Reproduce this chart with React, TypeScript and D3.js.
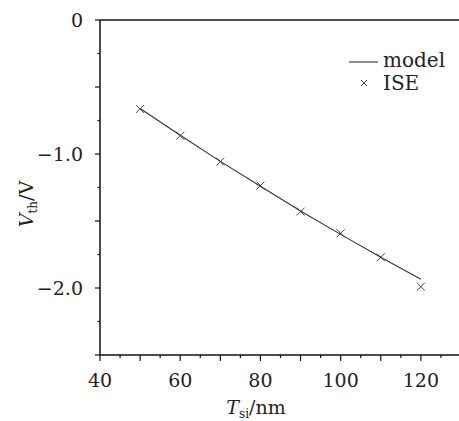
import React, { useEffect, useRef } from "react";
import * as d3 from "d3";

const tsi = [50, 60, 70, 80, 90, 100, 110, 120];
const modelVth = [-0.66, -0.86, -1.055, -1.24, -1.425, -1.6, -1.77, -1.935];
const iseVth = [-0.664, -0.863, -1.057, -1.236, -1.43, -1.592, -1.771, -1.99];
const xTickLabels = [40, 60, 80, 100, 120];
const yTickLabels = [0, -1, -2];

const W = 459;
const H = 421;
const FONT = "DejaVu Serif";

export default function App() {
  const svgRef = useRef<SVGSVGElement>(null);

  useEffect(() => {
    const svg = d3.select(svgRef.current);
    svg.selectAll("*").remove();

    const x = d3.scaleLinear().domain([40, 130]).range([100, 461]);
    const y = d3.scaleLinear().domain([0, -2.5]).range([20, 355]);

    // frame: top, left, bottom
    const axisCol = "#111";
    svg.append("line").attr("x1", 100).attr("x2", W).attr("y1", y(0)).attr("y2", y(0))
      .attr("stroke", axisCol).attr("stroke-width", 1.5);
    svg.append("line").attr("x1", 100).attr("x2", 100).attr("y1", y(0)).attr("y2", y(-2.5))
      .attr("stroke", axisCol).attr("stroke-width", 1.5);
    svg.append("line").attr("x1", 100).attr("x2", W).attr("y1", y(-2.5)).attr("y2", y(-2.5))
      .attr("stroke", axisCol).attr("stroke-width", 1.5);

    // x ticks
    d3.range(40, 131, 5).forEach(v => {
      const major = v % 10 === 0;
      svg.append("line").attr("x1", x(v)).attr("x2", x(v))
        .attr("y1", y(-2.5)).attr("y2", y(-2.5) + (major ? 6 : 3))
        .attr("stroke", axisCol).attr("stroke-width", 1.2);
    });
    svg.selectAll(".xl").data(xTickLabels).enter().append("text")
      .attr("x", d => x(d)).attr("y", 387)
      .attr("text-anchor", "middle").attr("font-family", FONT).attr("font-size", 19)
      .attr("fill", "#222").text(d => String(d));

    // y ticks
    d3.range(0, 11).forEach(i => {
      const v = -i * 0.25;
      const major = i % 2 === 0;
      svg.append("line").attr("x1", 100 - (major ? 5 : 2.5)).attr("x2", 100)
        .attr("y1", y(v)).attr("y2", y(v))
        .attr("stroke", axisCol).attr("stroke-width", 1.2);
    });
    svg.selectAll(".yl").data(yTickLabels).enter().append("text")
      .attr("x", 83).attr("y", d => y(d) + 7)
      .attr("text-anchor", "end").attr("font-family", FONT).attr("font-size", 19)
      .attr("fill", "#222").text(d => (d === 0 ? "0" : "\u2212" + Math.abs(d).toFixed(1)));

    // axis titles
    const xt = svg.append("text").attr("x", 256).attr("y", 414).attr("text-anchor", "middle")
      .attr("font-family", FONT).attr("font-size", 19).attr("fill", "#222");
    xt.append("tspan").attr("font-style", "italic").text("T");
    xt.append("tspan").attr("font-size", 12).attr("dy", 4).text("si");
    xt.append("tspan").attr("dy", -4).text("/nm");

    const yt = svg.append("text").attr("transform", `translate(33,204) rotate(-90)`)
      .attr("text-anchor", "middle").attr("font-family", FONT).attr("font-size", 19).attr("fill", "#222");
    yt.append("tspan").attr("font-style", "italic").text("V");
    yt.append("tspan").attr("font-size", 12).attr("dy", 4).text("th");
    yt.append("tspan").attr("dy", -4).text("/V");

    // model line
    const line = d3.line<number>().x((_, i) => x(tsi[i])).y(d => y(d));
    svg.append("path").datum(modelVth).attr("d", line).attr("fill", "none")
      .attr("stroke", "#333").attr("stroke-width", 1.1);

    // ISE markers
    const s = 4;
    const cross = (cx: number, cy: number) => `M${cx - s},${cy - s}L${cx + s},${cy + s}M${cx - s},${cy + s}L${cx + s},${cy - s}`;
    svg.selectAll(".m").data(iseVth).enter().append("path")
      .attr("d", (d, i) => cross(x(tsi[i]), y(d)))
      .attr("stroke", "#333").attr("stroke-width", 0.9).attr("fill", "none");

    // legend
    svg.append("line").attr("x1", 349).attr("x2", 378).attr("y1", 62).attr("y2", 62)
      .attr("stroke", "#333").attr("stroke-width", 1.1);
    svg.append("text").attr("x", 383).attr("y", 67).attr("font-family", FONT).attr("font-size", 20)
      .attr("fill", "#222").text("model");
    svg.append("path").attr("d", `M361,80L367,86M361,86L367,80`)
      .attr("stroke", "#333").attr("stroke-width", 0.9);
    svg.append("text").attr("x", 383).attr("y", 90).attr("font-family", FONT).attr("font-size", 20)
      .attr("fill", "#222").text("ISE");
  }, []);

  return (
    <svg ref={svgRef} width={W} height={H}
      style={{ position: "absolute", left: 0, top: 0, background: "#fff" }} />
  );
}
